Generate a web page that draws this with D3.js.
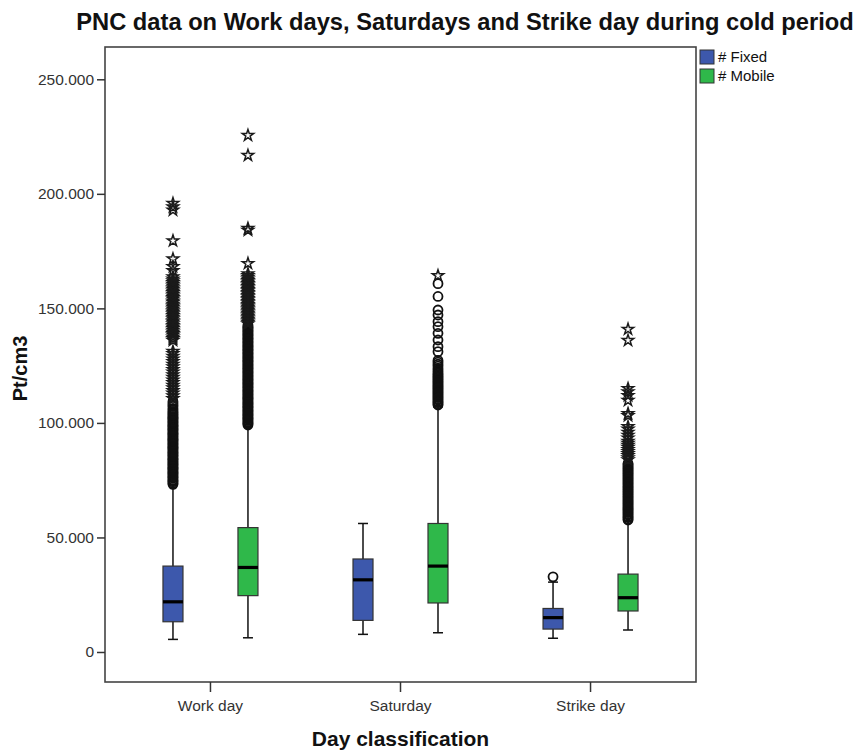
<!DOCTYPE html>
<html>
<head>
<meta charset="utf-8">
<script src="https://cdn.jsdelivr.net/npm/d3@7"></script>
<style>
  html, body { margin: 0; padding: 0; background: #fff; }
  svg { display: block; font-family: Arial, "Liberation Sans", sans-serif; }
</style>
</head>
<body>
<svg id="chart" width="858" height="754"></svg>
<script>
// Day classes and the two measuring stations
const categories = ["Work day", "Saturday", "Strike day"];
const seriesNames = ["# Fixed", "# Mobile"];
const seriesColors = ["#3D58AC", "#2FB84A"];
const yTickValues = [0, 50000, 100000, 150000, 200000, 250000];

// Box statistics (Pt/cm3), one entry per day class
const fixedLow    = [5500, 7700, 6000];
const fixedQ1     = [13200, 13800, 10000];
const fixedMedian = [21900, 31500, 15000];
const fixedQ3     = [37500, 40600, 19000];
const fixedHigh   = [73000, 56100, 30500];

const mobileLow    = [6200, 8400, 9600];
const mobileQ1     = [24600, 21400, 17900];
const mobileMedian = [36900, 37500, 23700];
const mobileQ3     = [54300, 56100, 34000];
const mobileHigh   = [98500, 107000, 57000];

// Outliers (thousands of Pt/cm3): circles = outside 1.5 IQR, stars = outside 3 IQR
const workFixedCircles = [73.2, 73.7, 74.3, 74.8, 75.2, 75.9, 76.3, 76.8, 77.4, 77.9, 78.3, 78.8, 79.4, 79.9, 80.3, 80.7,
  81.3, 81.9, 82.2, 82.8, 83.3, 83.9, 84.2, 84.7, 85.4, 85.8, 86.3, 86.9, 87.2, 87.8, 88.4, 88.9, 89.3, 89.7, 90.4, 90.8,
  91.3, 91.9, 92.4, 92.8, 93.2, 93.8, 94.3, 94.9, 95.3, 95.7, 96.4, 96.9, 97.3, 97.8, 98.4, 98.8, 99.2, 99.9, 100.3, 100.8,
  101.4, 101.9, 102.3, 102.7, 103.4, 103.8, 104.4, 104.9, 105.6, 106.3, 107.2, 107.8, 108.6, 109.4];
const workFixedStars = [110.6, 111.8, 113.0, 114.1, 115.3, 116.4, 117.6, 118.7, 119.9, 121.0, 122.2, 123.3, 124.5, 125.6,
  126.8, 127.9, 129.1, 130.3, 131.2,
  136.0, 136.8, 137.5, 138.3, 139.0, 139.6, 140.4, 141.2, 141.8, 142.5, 143.3, 144.0, 144.6, 145.4, 146.1, 146.8, 147.6,
  148.3, 148.9, 149.7, 150.4, 151.1, 151.8, 152.6, 153.2, 154.0, 154.7, 155.4, 156.1, 156.9, 157.5, 158.3, 159.0, 159.7,
  160.5, 161.2, 162.0, 162.8, 163.8, 166.5, 168.2, 171.6, 179.5, 192.9, 194.3, 195.8];
const workMobileCircles = [99.1, 99.6, 100.0, 100.5, 101.1, 101.6, 102.0, 102.4, 103.0, 103.5, 103.9, 104.4, 105.0, 105.4,
  105.9, 106.5, 106.9, 107.3, 107.9, 108.4, 108.8, 109.3, 109.9, 110.4, 110.8, 111.2, 111.8, 112.3, 112.7, 113.3, 113.8,
  114.2, 114.7, 115.3, 115.7, 116.2, 116.8, 117.2, 117.6, 118.2, 118.7, 119.1, 119.6, 120.2, 120.6, 121.1, 121.7, 122.1,
  122.5, 123.1, 123.6, 124.0, 124.5, 125.1, 125.5, 126.0, 126.6, 127.0, 127.4, 128.0, 128.5, 128.9, 129.4, 130.0, 130.4,
  130.9, 131.5, 131.9, 132.3, 132.9, 133.4, 133.8, 134.3, 134.9, 135.3, 135.8, 136.4, 136.8, 137.2, 137.8, 138.3, 138.7,
  139.2, 139.8, 140.2, 140.7, 141.3, 141.7, 142.1, 142.7];
const workMobileStars = [143.3, 143.9, 144.6, 145.2, 145.9, 146.5, 147.2, 147.8, 148.5, 149.1, 149.8, 150.4, 151.1, 151.7,
  152.4, 153.0, 153.7, 154.3, 155.0, 155.6, 156.3, 156.9, 157.6, 158.2, 158.9, 159.5, 160.2, 160.8, 161.5, 162.1, 162.8,
  163.5, 164.3, 165.1, 169.6, 184.1, 184.9, 216.8, 225.5];
const saturdayFixedCircles = [];
const saturdayFixedStars = [];
const saturdayMobileCircles = [107.8, 108.3, 108.9, 109.4, 110.0, 110.5, 111.1, 111.6, 112.2, 112.7, 113.3, 113.8, 114.4,
  114.9, 115.5, 116.0, 116.6, 117.1, 117.7, 118.2, 118.8, 119.3, 119.9, 120.4, 121.0, 121.6, 122.3, 123.1, 123.9, 124.8,
  125.6, 126.5, 127.3, 131.1, 133.3, 136.2, 139.1, 142.0, 144.2, 147.1, 149.3, 155.2, 160.8];
const saturdayMobileStars = [164.3];
const strikeFixedCircles = [32.8];
const strikeFixedStars = [];
const strikeMobileCircles = [57.6, 58.1, 58.7, 59.2, 59.8, 60.3, 60.9, 61.4, 62.0, 62.5, 63.1, 63.6, 64.2, 64.7, 65.3,
  65.8, 66.4, 66.9, 67.5, 68.0, 68.6, 69.1, 69.7, 70.2, 70.8, 71.3, 71.9, 72.4, 73.0, 73.5, 74.1, 74.6, 75.2, 75.7, 76.3,
  76.8, 77.4, 77.9, 78.5, 79.0, 79.6, 80.1, 80.7, 81.2, 81.8, 82.3];
const strikeMobileStars = [83.9, 84.8, 85.7, 86.6, 87.5, 88.4, 89.3, 90.2, 91.1, 92.0, 93.4, 94.6, 95.9, 97.3, 98.4,
  103.2, 104.1, 109.8, 111.9, 113.6, 115.0, 136.0, 140.9];

const K = 1000;
const boxes = [];
categories.forEach((cat, i) => {
  boxes.push({ cat, series: 0, low: fixedLow[i], q1: fixedQ1[i], med: fixedMedian[i], q3: fixedQ3[i], high: fixedHigh[i] });
  boxes.push({ cat, series: 1, low: mobileLow[i], q1: mobileQ1[i], med: mobileMedian[i], q3: mobileQ3[i], high: mobileHigh[i] });
});
const outlierSets = [
  [0, 0, workFixedCircles, workFixedStars], [0, 1, workMobileCircles, workMobileStars],
  [1, 0, saturdayFixedCircles, saturdayFixedStars], [1, 1, saturdayMobileCircles, saturdayMobileStars],
  [2, 0, strikeFixedCircles, strikeFixedStars], [2, 1, strikeMobileCircles, strikeMobileStars]
];
const circles = [], stars = [];
outlierSets.forEach(([ci, si, cs, ss]) => {
  cs.forEach(v => circles.push({ cat: categories[ci], series: si, v: v * K }));
  ss.forEach(v => stars.push({ cat: categories[ci], series: si, v: v * K }));
});

// Layout
const plot = { left: 105, right: 696, top: 47, bottom: 682 };
const svg = d3.select("#chart");

const x = d3.scaleBand().domain(categories).range([plot.left, plot.right]).paddingInner(0).paddingOuter(0.055);
const xSub = d3.scalePoint().domain([0, 1]).range([0, x.bandwidth()]).padding(0.767);
const y = d3.scaleLinear().domain([-13100, 264100]).range([plot.bottom, plot.top]);
const cx = d => x(d.cat) + xSub(d.series);
const boxW = 20, capW = 10;

const fmt = d3.formatLocale({ decimal: ",", thousands: ".", grouping: [3], currency: ["", ""] }).format(",");

// Title
svg.append("text")
  .attr("x", 465).attr("y", 30)
  .attr("text-anchor", "middle")
  .attr("font-weight", "bold").attr("font-size", 23.7)
  .attr("fill", "#111")
  .text("PNC data on Work days, Saturdays and Strike day during cold period");

// Plot frame
svg.append("rect")
  .attr("x", plot.left).attr("y", plot.top)
  .attr("width", plot.right - plot.left).attr("height", plot.bottom - plot.top)
  .attr("fill", "none").attr("stroke", "#444").attr("stroke-width", 1.6);

// Y axis
const yAxis = d3.axisLeft(y).tickValues(yTickValues).tickSize(8).tickPadding(3).tickFormat(fmt);
const gy = svg.append("g").attr("transform", `translate(${plot.left},0)`).call(yAxis);
gy.select(".domain").remove();
gy.selectAll(".tick line").attr("stroke", "#333").attr("stroke-width", 1.5);
gy.selectAll(".tick text").attr("font-size", 15.5).attr("fill", "#333").attr("font-family", "Arial, 'Liberation Sans', sans-serif");

// X axis
const xAxis = d3.axisBottom(x).tickSize(10).tickPadding(8);
const gx = svg.append("g").attr("transform", `translate(0,${plot.bottom})`).call(xAxis);
gx.select(".domain").remove();
gx.selectAll(".tick line").attr("stroke", "#333").attr("stroke-width", 1.5);
gx.selectAll(".tick text").attr("font-size", 15.5).attr("fill", "#333").attr("font-family", "Arial, 'Liberation Sans', sans-serif");

// Axis titles
svg.append("text")
  .attr("transform", `translate(27,${(plot.top + plot.bottom) / 2 + 4}) rotate(-90)`)
  .attr("text-anchor", "middle").attr("font-weight", "bold").attr("font-size", 20).attr("fill", "#111")
  .text("Pt/cm3");
svg.append("text")
  .attr("x", (plot.left + plot.right) / 2).attr("y", 746)
  .attr("text-anchor", "middle").attr("font-weight", "bold").attr("font-size", 21).attr("fill", "#111")
  .text("Day classification");

// Whiskers
const g = svg.append("g");
const bg = g.selectAll("g.box").data(boxes).join("g").attr("class", "box");
bg.append("line")
  .attr("x1", cx).attr("x2", cx)
  .attr("y1", d => y(d.low)).attr("y2", d => y(d.high))
  .attr("stroke", "#111").attr("stroke-width", 1.5);
bg.append("line")
  .attr("x1", d => cx(d) - capW / 2).attr("x2", d => cx(d) + capW / 2)
  .attr("y1", d => y(d.low)).attr("y2", d => y(d.low))
  .attr("stroke", "#111").attr("stroke-width", 1.5);
bg.append("line")
  .attr("x1", d => cx(d) - capW / 2).attr("x2", d => cx(d) + capW / 2)
  .attr("y1", d => y(d.high)).attr("y2", d => y(d.high))
  .attr("stroke", "#111").attr("stroke-width", 1.5);
// Boxes
bg.append("rect")
  .attr("x", d => cx(d) - boxW / 2).attr("width", boxW)
  .attr("y", d => y(d.q3)).attr("height", d => y(d.q1) - y(d.q3))
  .attr("fill", d => seriesColors[d.series])
  .attr("stroke", "#333").attr("stroke-width", 1.2);
// Medians
bg.append("line")
  .attr("x1", d => cx(d) - boxW / 2).attr("x2", d => cx(d) + boxW / 2)
  .attr("y1", d => y(d.med)).attr("y2", d => y(d.med))
  .attr("stroke", "#000").attr("stroke-width", 3.2);

// Outliers
g.selectAll("circle.out").data(circles).join("circle")
  .attr("class", "out")
  .attr("cx", cx).attr("cy", d => y(d.v)).attr("r", 4.5)
  .attr("fill", "none").attr("stroke", "#111").attr("stroke-width", 1.8);
const star = d3.symbol().type(d3.symbolStar).size(40);
g.selectAll("path.ext").data(stars).join("path")
  .attr("class", "ext")
  .attr("transform", d => `translate(${cx(d)},${y(d.v)})`)
  .attr("d", star)
  .attr("fill", "none").attr("stroke", "#1a1a1a").attr("stroke-width", 1.5);

// Legend
const leg = svg.append("g").selectAll("g").data(seriesNames).join("g")
  .attr("transform", (d, i) => `translate(700,${50 + i * 19})`);
leg.append("rect").attr("width", 14).attr("height", 14)
  .attr("fill", (d, i) => seriesColors[i]).attr("stroke", "#333").attr("stroke-width", 1);
leg.append("text").attr("x", 18).attr("y", 12)
  .attr("font-size", 15).attr("fill", "#111")
  .text(d => d);
</script>
</body>
</html>
